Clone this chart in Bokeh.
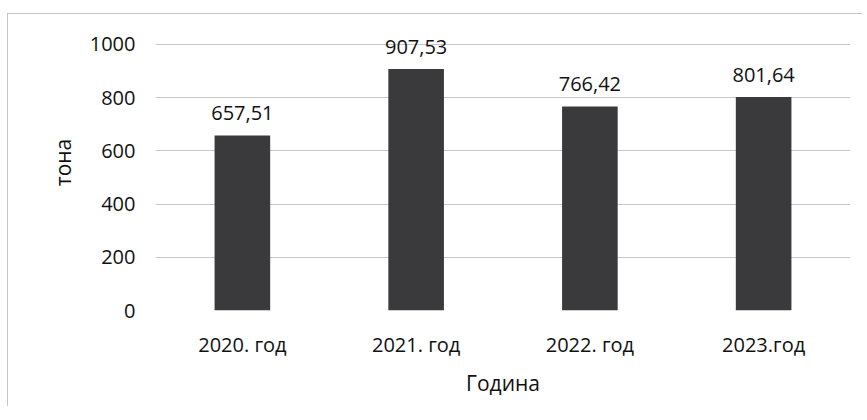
from bokeh.plotting import figure
from bokeh.models import ColumnDataSource, Range1d, FixedTicker
from bokeh.core.properties import value
from bokeh.embed import file_html
from bokeh.resources import INLINE

categories = ["2020. год", "2021. год", "2022. год", "2023.год"]
values = [657.51, 907.53, 766.42, 801.64]
labels = ["657,51", "907,53", "766,42", "801,64"]
y_ticks = [0, 200, 400, 600, 800, 1000]

FONT = "Open Sans"
TXT = "#111111"

src = ColumnDataSource(dict(cat=categories, val=values, lab=labels))

# y range extends a little above 1000 so the top data label is not clipped
p = figure(x_range=categories, y_range=Range1d(0, 1112),
           output_backend="svg", toolbar_location=None,
           frame_width=695, frame_height=296,
           min_border_left=147, min_border_right=12,
           min_border_top=0, min_border_bottom=96)
p.margin = (13, 0, 0, 7)
p.styles = {"border-left": "1px solid #c4c4c4", "border-top": "1px solid #c4c4c4"}

p.vbar(x="cat", top="val", width=0.32, source=src,
       fill_color="#3a3a3c", line_color=None)
p.text(x="cat", y="val", text="lab", source=src,
       text_align="center", text_baseline="bottom", y_offset=-15,
       text_font=value(FONT), text_font_size="20px", text_color=TXT)

p.outline_line_color = None
p.xgrid.grid_line_color = None
p.ygrid.grid_line_color = "#c8c8c8"
p.ygrid.grid_line_width = 1

p.yaxis.ticker = FixedTicker(ticks=y_ticks)
for ax in (p.xaxis[0], p.yaxis[0]):
    ax.axis_line_color = None
    ax.major_tick_line_color = None
    ax.minor_tick_line_color = None
    ax.major_label_text_font = FONT
    ax.major_label_text_font_size = "20px"
    ax.major_label_text_color = TXT
    ax.axis_label_text_font = FONT
    ax.axis_label_text_font_size = "21px"
    ax.axis_label_text_font_style = "normal"
    ax.axis_label_text_color = TXT

p.yaxis.axis_label = "тона"
p.yaxis.major_label_standoff = 14
p.yaxis.axis_label_standoff = 10
p.xaxis.axis_label = "Година"
p.xaxis.major_label_standoff = 14
p.xaxis.axis_label_standoff = 8

open("out.html", "w").write(file_html(p, INLINE))
